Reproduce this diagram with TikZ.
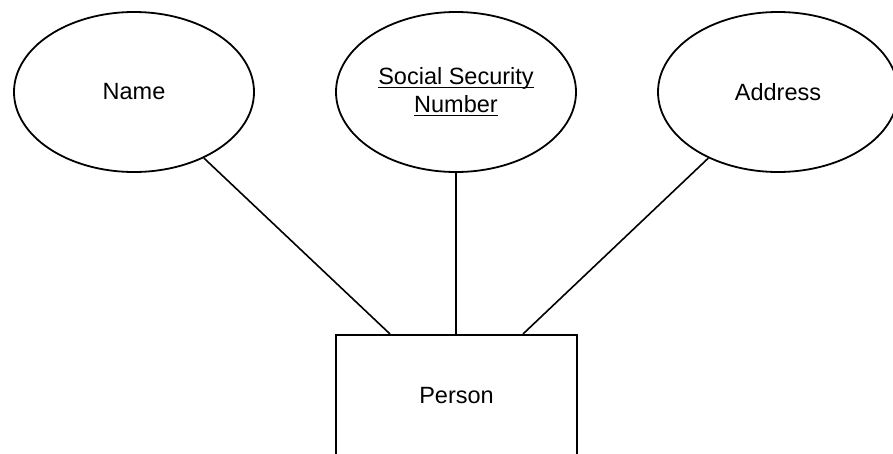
\documentclass[tikz,border=0pt]{standalone}
\usepackage{fontspec}
\setmainfont{Liberation Sans}
\usetikzlibrary{shapes.geometric}

% underline with a fixed depth and thickness
\newcommand\ulined[1]{{\setbox0=\hbox{#1}\rlap{\rule[-3.6pt]{\wd0}{1.6pt}}\box0}}

\begin{document}
\begin{tikzpicture}[x=1pt,y=-1pt,
  line width=1.8pt,
  every node/.style={font=\fontsize{23.5}{28}\selectfont},
  attr/.style={draw, ellipse, inner sep=0pt, minimum width=240pt, minimum height=160pt, align=center},
  entity/.style={draw, rectangle, inner sep=0pt, minimum width=241pt, minimum height=122pt},
  link/.style={draw, line width=1.6pt}]
  \useasboundingbox (0,0) rectangle (893,453);

  % attributes
  \node[attr] (name) at (134,92) {Name};
  \node[attr] (ssn) at (456,92) {\ulined{Social Security}\\\ulined{Number}};
  \node[attr] (addr) at (778,92) {Address};

  % entity
  \node[entity, anchor=north] (person) at (456.5,334) {\raisebox{0pt}{Person}};
  \coordinate (pleft) at (390,334);
  \coordinate (pright) at (523,334);

  % connectors
  \path[link] (name) -- (pleft);
  \path[link] (ssn) -- (ssn |- person.north);
  \path[link] (addr) -- (pright);
\end{tikzpicture}
\end{document}
